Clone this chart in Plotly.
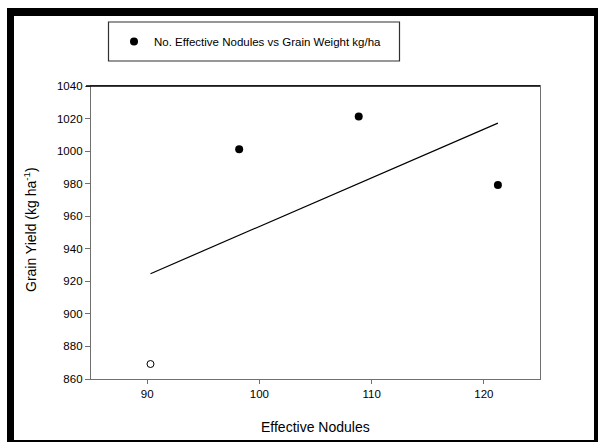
import plotly.graph_objects as go

# ---- data ----
nodules_filled = [98.2, 108.85, 121.25]
yield_filled = [1001.2, 1021.2, 979.2]
nodules_open = [90.3]
yield_open = [869.2]
fit_x = [90.3, 121.25]
fit_y = [924.7, 1017.2]

x_ticks = [90, 100, 110, 120]
y_ticks = [860, 880, 900, 920, 940, 960, 980, 1000, 1020, 1040]

legend_label = "No. Effective Nodules vs Grain Weight kg/ha"
x_title = "Effective Nodules"
y_title = "Grain Yield (kg ha<sup>-1</sup>)"

W, H = 598, 442
L, R, T, B = 91, 540, 86, 379  # plot area in pixels

def px(x):
    return (x - L) / (R - L)

def py(y):
    return (B - y) / (B - T)

FONT = "Arial, Liberation Sans, sans-serif"
GRAY = "#707070"

fig = go.Figure()
fig.add_trace(go.Scatter(
    x=fit_x, y=fit_y, mode="lines",
    line=dict(color="black", width=1.2), showlegend=False, hoverinfo="skip"))
fig.add_trace(go.Scatter(
    x=nodules_filled, y=yield_filled, mode="markers",
    marker=dict(symbol="circle", size=8, color="black"),
    name=legend_label, showlegend=True))
fig.add_trace(go.Scatter(
    x=nodules_open, y=yield_open, mode="markers",
    marker=dict(symbol="circle-open", size=7, color="black", line=dict(width=1)),
    showlegend=False))

shapes = []
# thick outer frame (pieces)
for (x0, y0, x1, y1) in [(7, 8, 14, 442), (7, 8, 598, 16), (594, 8, 598, 442), (7, 440, 598, 442)]:
    shapes.append(dict(type="rect", xref="paper", yref="paper",
                       x0=px(x0), x1=px(x1), y0=py(y1), y1=py(y0),
                       fillcolor="black", line=dict(width=0), layer="above"))
# legend box
shapes.append(dict(type="rect", xref="paper", yref="paper",
                   x0=px(108.5), x1=px(399.5), y0=py(61), y1=py(22),
                   fillcolor="rgba(0,0,0,0)", line=dict(color="#303030", width=1.2)))
# black top border of plot area
shapes.append(dict(type="line", xref="paper", yref="paper",
                   x0=px(86), x1=1, y0=1, y1=1,
                   line=dict(color="black", width=1.3), layer="above"))

annotations = [
    dict(text=x_title, xref="paper", yref="paper", x=px(315.5), y=py(427),
         xanchor="center", yanchor="middle", showarrow=False,
         font=dict(family=FONT, size=14, color="black")),
    dict(text=y_title, xref="paper", yref="paper", x=px(30), y=py(230),
         xanchor="center", yanchor="middle", showarrow=False, textangle=-90,
         font=dict(family=FONT, size=14, color="black")),
]

fig.update_layout(
    width=W, height=H,
    margin=dict(l=L, r=W - R, t=T, b=H - B),
    paper_bgcolor="white", plot_bgcolor="white",
    font=dict(family=FONT, size=11.5, color="black"),
    showlegend=True,
    legend=dict(x=px(114), y=py(41.5), xanchor="left", yanchor="middle",
                bgcolor="rgba(0,0,0,0)", borderwidth=0,
                font=dict(family=FONT, size=11.5, color="black")),
    shapes=shapes,
    annotations=annotations,
    xaxis=dict(range=[85, 125], tickvals=x_ticks, ticks="outside", ticklen=4,
               tickcolor=GRAY, showline=True, linecolor=GRAY, linewidth=1.3,
               mirror=True, showgrid=False, zeroline=False,
               tickfont=dict(family=FONT, size=11.5, color="black")),
    yaxis=dict(range=[860, 1040], tickvals=y_ticks, ticks="outside", ticklen=5,
               tickcolor=GRAY, showline=True, linecolor=GRAY, linewidth=1.3,
               mirror=True, showgrid=False, zeroline=False,
               tickfont=dict(family=FONT, size=11.5, color="black")),
)

fig.write_html("out.html")
